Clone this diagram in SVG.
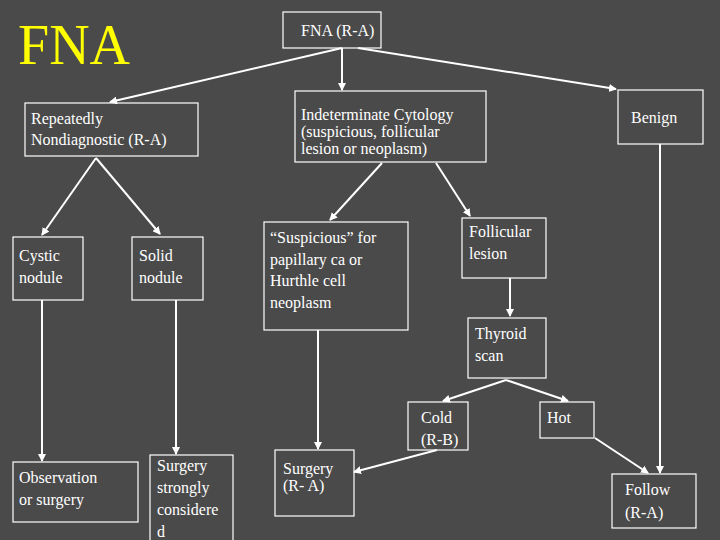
<svg xmlns="http://www.w3.org/2000/svg" width="720" height="540" viewBox="0 0 720 540">
<style>
.b{fill:none;stroke:#fff;stroke-width:1.2}
text{font-family:'Liberation Serif','Times New Roman','DejaVu Serif',serif;font-size:16px;fill:#fff}
.c line{stroke:#fff;stroke-width:2;marker-end:url(#a)}
</style>
<defs><marker id="a" markerWidth="8" markerHeight="8" refX="7" refY="4" orient="auto" markerUnits="userSpaceOnUse"><path d="M0,0L8,4L0,8z" fill="#fff"/></marker></defs>
<rect width="720" height="540" fill="#4a4a4a"/>
<text x="18" y="64" font-family="Liberation Serif, Times New Roman, DejaVu Serif, serif" style="font-size:56px;fill:#ffff00">FNA</text>
<g class="c">
<line x1="342" y1="48" x2="110" y2="102"/>
<line x1="342" y1="48" x2="342" y2="90"/>
<line x1="358" y1="48" x2="616" y2="89"/>
<line x1="96" y1="158" x2="42" y2="235"/>
<line x1="96" y1="158" x2="160" y2="234"/>
<line x1="382" y1="163" x2="330" y2="220"/>
<line x1="436" y1="163" x2="470" y2="216"/>
<line x1="510" y1="278" x2="510" y2="316"/>
<line x1="506" y1="380" x2="443" y2="401"/>
<line x1="506" y1="380" x2="568" y2="401"/>
<line x1="437" y1="450" x2="354" y2="472"/>
<line x1="595" y1="438" x2="648" y2="473"/>
<line x1="660" y1="144" x2="660" y2="473"/>
<line x1="42" y1="300" x2="42" y2="461"/>
<line x1="176" y1="300" x2="176" y2="454"/>
<line x1="318" y1="330" x2="318" y2="449"/>
</g>
<g id="fna"><rect class="b" x="283" y="12" width="98" height="36"/><text x="301" y="36">FNA (R-A)</text></g>
<g id="rep"><rect class="b" x="25" y="103" width="173" height="53"/><text x="31" y="124">Repeatedly</text><text x="31" y="145">Nondiagnostic (R-A)</text></g>
<g id="ind"><rect class="b" x="295" y="91" width="191" height="71"/><text x="301" y="120">Indeterminate Cytology</text><text x="301" y="137">(suspicious, follicular</text><text x="301" y="154">lesion or neoplasm)</text></g>
<g id="benign"><rect class="b" x="618" y="90" width="85" height="54"/><text x="631" y="123">Benign</text></g>
<g id="cystic"><rect class="b" x="13" y="237" width="70" height="63"/><text x="19" y="261">Cystic</text><text x="19" y="283">nodule</text></g>
<g id="solid"><rect class="b" x="132" y="237" width="71" height="63"/><text x="139" y="261">Solid</text><text x="139" y="283">nodule</text></g>
<g id="susp"><rect class="b" x="264" y="222" width="144" height="108"/><text x="270" y="243">“Suspicious” for</text><text x="270" y="265">papillary ca or</text><text x="270" y="286">Hurthle cell</text><text x="270" y="308">neoplasm</text></g>
<g id="foll"><rect class="b" x="462" y="218" width="84" height="60"/><text x="469" y="237">Follicular</text><text x="469" y="259">lesion</text></g>
<g id="scan"><rect class="b" x="468" y="318" width="78" height="60"/><text x="475" y="339">Thyroid</text><text x="475" y="361">scan</text></g>
<g id="cold"><rect class="b" x="408" y="402" width="60" height="48"/><text x="421" y="423">Cold</text><text x="421" y="445">(R-B)</text></g>
<g id="hot"><rect class="b" x="540" y="402" width="54" height="36"/><text x="547" y="423">Hot</text></g>
<g id="obs"><rect class="b" x="13" y="462" width="125" height="60"/><text x="19" y="483">Observation</text><text x="19" y="505">or surgery</text></g>
<g id="ss"><rect class="b" x="150" y="455" width="83" height="90"/><text x="157" y="471">Surgery</text><text x="157" y="493">strongly</text><text x="157" y="515">considere</text><text x="157" y="537">d</text></g>
<g id="sra"><rect class="b" x="275" y="450" width="79" height="66"/><text x="283" y="474">Surgery</text><text x="283" y="491">(R- A)</text></g>
<g id="follow"><rect class="b" x="612" y="474" width="84" height="54"/><text x="625" y="495">Follow</text><text x="625" y="518">(R-A)</text></g>
</svg>
